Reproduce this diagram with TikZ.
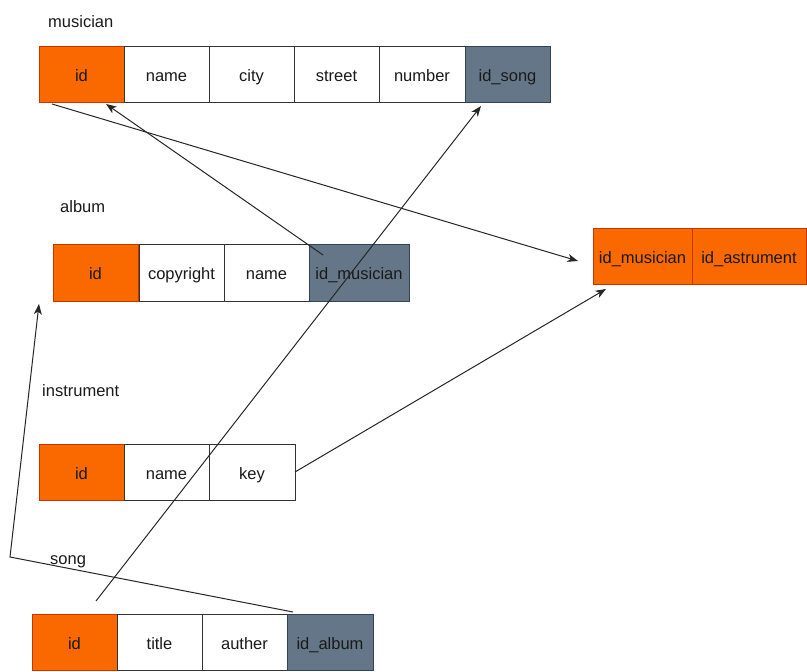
\documentclass[tikz,border=0pt]{standalone}
\usepackage{fontspec}
\setmainfont{Liberation Sans}
\usetikzlibrary{arrows.meta,calc}
\definecolor{pkorange}{HTML}{FA6800}
\definecolor{pkstroke}{HTML}{C73500}
\definecolor{fkslate}{HTML}{647687}
\definecolor{fkstroke}{HTML}{314354}
\definecolor{txt}{HTML}{1A1A1A}
\begin{document}
\begin{tikzpicture}[x=1pt,y=-1pt,
  cell/.style={draw=black!80, fill=white, line width=0.9pt, minimum height=56pt,
    minimum width=85pt, inner sep=0pt, outer sep=0pt, anchor=north west,
    text height=14pt, text depth=0pt,
    text=txt, font=\fontsize{16.5}{19}\selectfont},
  pk/.style={cell, fill=pkorange, draw=pkstroke},
  fk/.style={cell, fill=fkslate, draw=fkstroke},
  lbl/.style={anchor=west, inner sep=0pt, text=txt, font=\fontsize{16.5}{19}\selectfont},
  conn/.style={draw=black!85, line width=1pt},
  arr/.style={conn, -{Stealth[length=10.5pt,width=8pt,inset=3pt]}}]
\useasboundingbox (0,0) rectangle (807,672);
\fill[white] (0,0) rectangle (807,672);

% musician
\node[lbl] (lm) at (48,22) {musician};
\node[pk] (m-id) at (39,46) {id};
\node[cell] (m-name) at (124,46) {name};
\node[cell] (m-city) at (209,46) {city};
\node[cell] (m-street) at (294,46) {street};
\node[cell, minimum width=86pt] (m-number) at (379,46) {number};
\node[fk] (m-song) at (465,46) {id\_song};

% album
\node[lbl] (la) at (60,207) {album};
\node[pk, minimum height=57pt] (a-id) at (53,244) {id};
\node[cell, minimum height=57pt] (a-copy) at (139,244) {copyright};
\node[cell, minimum height=57pt] (a-name) at (224,244) {name};
\node[fk, minimum height=57pt, minimum width=100pt] (a-mus) at (309,244) {id\_musician};

% instrument
\node[lbl] (li) at (42,391) {instrument};
\node[pk] (i-id) at (39,444) {id};
\node[cell] (i-name) at (124,444) {name};
\node[cell, minimum width=86pt] (i-key) at (209,444) {key};

% song
\node[lbl] (ls) at (50,562) {song};
\node[pk] (s-id) at (32,614) {id};
\node[cell] (s-title) at (117,614) {title};
\node[cell] (s-auth) at (202,614) {auther};
\node[fk, minimum width=86pt] (s-alb) at (287,614) {id\_album};

% junction
\node[pk, minimum width=99pt] (j-mus) at (593,228) {id\_musician};
\node[pk, minimum width=114pt] (j-ins) at (692,228) {id\_astrument};

% connectors
\draw[arr] ($(m-id.south west)+(13,2)$) -- ($(j-mus.west)+(-15,5)$);
\draw[arr] ($(a-mus.north west)+(14,11)$) -- ($(m-id.south east)+(-18,2)$);
\draw[arr] ($(s-id.north)+(21.5,-13)$) -- ($(m-song.south)+(-26.5,4)$);
\draw[arr] (i-key.east) -- ($(j-mus.south west)+(13,5)$);
\coordinate (bend) at (10,557);
\draw[arr] ($(s-alb.north west)+(6,-2)$) -- (bend) -- ($(a-id.south west)+(-14,3)$);
\end{tikzpicture}
\end{document}
